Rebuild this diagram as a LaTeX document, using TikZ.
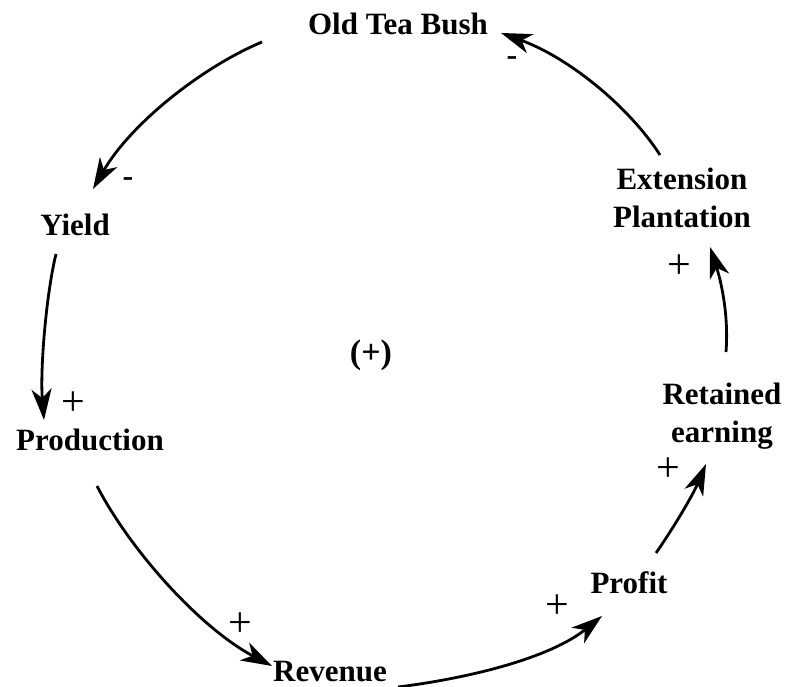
\documentclass[tikz,border=0pt]{standalone}
\usepackage{fontspec}
\setmainfont{Liberation Serif}
\usetikzlibrary{arrows.meta}
\begin{document}
\begin{tikzpicture}[x=1pt,y=-1pt,
  lbl/.style={font=\fontsize{31}{38}\selectfont\bfseries, inner sep=0pt, anchor=base, align=center},
  sgn/.style={font=\fontsize{42}{42}\selectfont, inner sep=0pt},
  neg/.style={font=\fontsize{32}{32}\selectfont\bfseries, inner sep=0pt},
  arr/.style={line width=2.8pt, -{Stealth[length=31pt,width=20pt,inset=9pt]}}]
\useasboundingbox (0,0) rectangle (785,687);
% nodes
\node[lbl] (old) at (398,35) {Old Tea Bush};
\node[lbl] (yield) at (75,236) {Yield};
\node[lbl] (prod) at (90,450) {Production};
\node[lbl] (rev) at (330,681) {Revenue};
\node[lbl] (profit) at (629,593) {Profit};
\node[lbl] (ret) at (722,442) {Retained\\earning};
\node[lbl] (ext) at (682,228) {Extension\\Plantation};
\node[lbl, font=\fontsize{34}{34}\selectfont\bfseries] (loop) at (371,363) {(+)};
% connector ends
\coordinate (a1s) at (262,42);  \coordinate (a1e) at (93,189);
\coordinate (a2s) at (56,254);  \coordinate (a2e) at (44,420);
\coordinate (a3s) at (97,486);  \coordinate (a3e) at (272,666);
\coordinate (a4s) at (398,687); \coordinate (a4e) at (602,616);
\coordinate (a5s) at (656,553); \coordinate (a5e) at (706,464);
\coordinate (a6s) at (726,352); \coordinate (a6e) at (710,247);
\coordinate (a7s) at (660,155); \coordinate (a7e) at (501,33);
% connectors
\draw[arr] (a1s) .. controls (200,68) and (130,125) .. (a1e);
\draw[arr] (a2s) .. controls (46,295) and (40,370) .. (a2e);
\draw[arr] (a3s) .. controls (130,550) and (200,628) .. (a3e);
\draw[arr] (a4s) .. controls (470,678) and (550,658) .. (a4e);
\draw[arr] (a5s) .. controls (672,530) and (692,497) .. (a5e);
\draw[arr] (a6s) .. controls (729,312) and (720,278) .. (a6e);
\draw[arr] (a7s) .. controls (630,108) and (570,58) .. (a7e);
% signs
\node[neg] (s1) at (128,182) {-};
\node[neg] (s7) at (512,61) {-};
\node[sgn] (s2) at (73,404) {+};
\node[sgn] (s3) at (240,625) {+};
\node[sgn] (s4) at (557,607) {+};
\node[sgn] (s5) at (668,470) {+};
\node[sgn] (s6) at (679,267) {+};
\end{tikzpicture}
\end{document}
